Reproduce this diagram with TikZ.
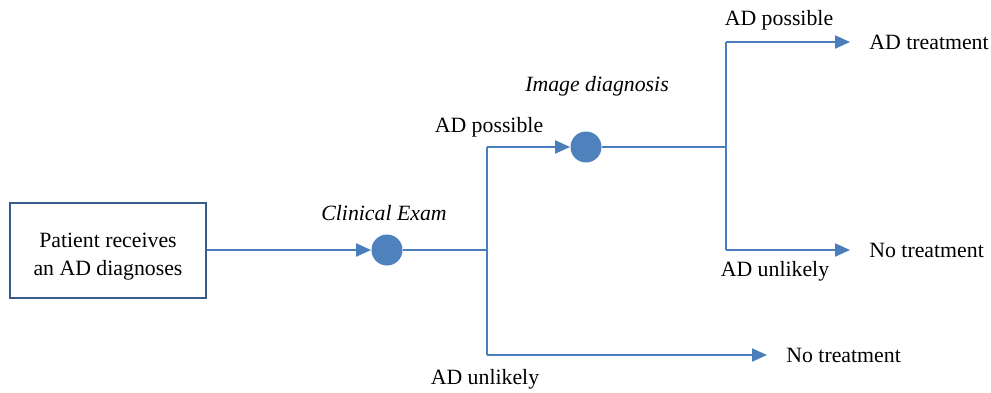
\documentclass[tikz,border=0pt]{standalone}
\usepackage{fontspec}
\setmainfont{Liberation Serif}
\usetikzlibrary{arrows.meta}
\definecolor{lineblue}{HTML}{4A7EBB}
\definecolor{dotblue}{HTML}{4F81BD}
\definecolor{boxblue}{HTML}{385D8A}
\tikzset{
	link/.style={draw=lineblue, line width=1pt},
	arrowlink/.style={link, -{Triangle[length=7.5pt,width=6.5pt]}},
	chance/.style={circle, fill=dotblue, minimum size=15.5pt, inner sep=0pt},
	outcome/.style={anchor=west, inner xsep=9.5pt, inner ysep=0pt},
}
\begin{document}
\begin{tikzpicture}[x=0.5pt, y=-0.5pt, font=\fontsize{10.9}{14}\selectfont]
	\useasboundingbox (0,0) rectangle (991,392);
	
	% Start box
	\node[draw=boxblue, line width=1pt, minimum width=98pt, minimum height=47.5pt, align=center] (patient) at (108,250) {\rule{0pt}{14pt}Patient receives\\an AD diagnoses};
	
	% Chance nodes
	\node[chance] (exam) at (387,250) {};
	\node[chance] (image) at (586,147) {};
	\node[font=\fontsize{10.9}{14}\selectfont\itshape] (examlabel) at (384,213) {Clinical Exam};
	\node[font=\fontsize{10.9}{14}\selectfont\itshape] (imagelabel) at (597,86) {Image diagnosis};
	
	% Junctions
	\coordinate (split1) at (487,250);
	\coordinate (split1up) at (487,147);
	\coordinate (split1down) at (487,355);
	\coordinate (split2) at (726,147);
	\coordinate (split2up) at (726,42);
	\coordinate (split2down) at (726,250);
	
	% Outcomes
	\node[outcome] (treat) at (850,42) {AD treatment};
	\node[outcome] (notreatA) at (850,250) {No treatment};
	\node[outcome] (notreatB) at (767,355) {No treatment};
	
	% Branch labels
	\node (possibleA) at (489,127) {AD possible};
	\node (unlikelyA) at (485,379) {AD unlikely};
	\node (possibleB) at (779,20) {AD possible};
	\node (unlikelyB) at (775,271) {AD unlikely};
	
	% Connectors
	\draw[arrowlink] (patient) -- (exam);
	\draw[link, line width=1.4pt] (exam) -- (split1);
	\draw[link] (split1up) -- (split1down);
	\draw[arrowlink] (split1up) -- (image);
	\draw[arrowlink] (split1down) -- (notreatB);
	\draw[link, line width=1.4pt] (image) -- (split2);
	\draw[link] (split2up) -- (split2down);
	\draw[arrowlink] (split2up) -- (treat);
	\draw[arrowlink] (split2down) -- (notreatA);
\end{tikzpicture}
\end{document}
